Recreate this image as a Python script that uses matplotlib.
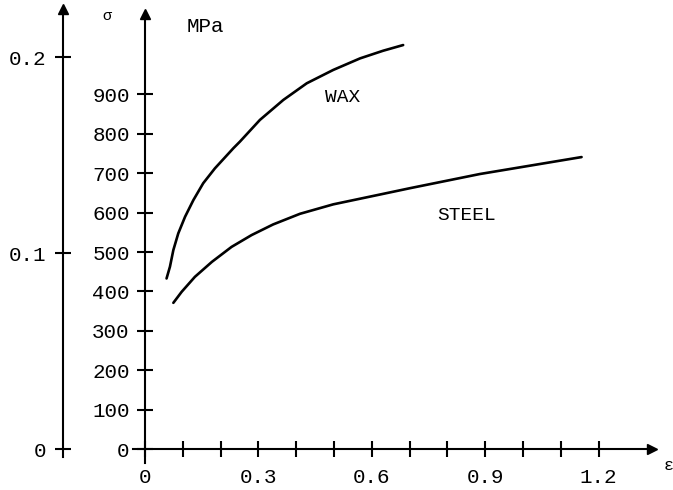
import numpy as np
import matplotlib.pyplot as plt
import matplotlib.transforms as mtransforms

plt.rcParams['font.family'] = ['Liberation Mono', 'DejaVu Sans Mono']

# -----------------------------
# Data
# -----------------------------
steel_eps = [0.075, 0.097, 0.132, 0.177, 0.229, 0.282, 0.339, 0.410, 0.498,
             0.622, 0.701, 0.886, 1.155]
steel_mpa = [371, 399, 437, 475, 513, 543, 570, 597, 621, 646, 662, 698, 741]

wax_eps = [0.057, 0.066, 0.075, 0.088, 0.106, 0.128, 0.154, 0.185, 0.234,
           0.251, 0.304, 0.366, 0.428, 0.498, 0.569, 0.630, 0.683]
wax_sig = [0.087, 0.093, 0.1015, 0.110, 0.1185, 0.127, 0.1356, 0.1432, 0.1535,
           0.1568, 0.1679, 0.1781, 0.1866, 0.1934, 0.1993, 0.2032, 0.2061]

x_ticks = np.round(np.arange(0, 1.21, 0.1), 1)
x_labels = ['0' if t == 0 else (f'{t:.1f}' if round(t * 10) % 3 == 0 else '') for t in x_ticks]
steel_ticks = np.arange(0, 901, 100)
wax_ticks = [0, 0.1, 0.2]
wax_labels = ['0', '0.1', '0.2']

# -----------------------------
# Figure / axes
# -----------------------------
W, H = 673, 490
fig = plt.figure(figsize=(W / 100, H / 100), dpi=100)
ax = fig.add_axes([145 / W, 41 / H, 506.5 / W, 431 / H])
ax2 = ax.twinx()

ax.set_xlim(0, 1.34)
ax.set_ylim(0, 1094)
ax2.set_ylim(0, 0.2199)

lw = 1.5
for a in (ax, ax2):
    a.patch.set_visible(False)
    for s in a.spines.values():
        s.set_visible(False)

ax.spines['left'].set_visible(True)
ax.spines['bottom'].set_visible(True)
ax.spines['left'].set_linewidth(lw)
ax.spines['bottom'].set_linewidth(lw)
ax.spines['left'].set_bounds(-36, 1094)
ax.spines['bottom'].set_bounds(-0.032, 1.34)

ax2.spines['left'].set_visible(True)
ax2.spines['left'].set_linewidth(lw)
ax2.spines['left'].set_position(('outward', 59))
ax2.spines['left'].set_bounds(-0.004, 0.2224)
ax2.yaxis.set_ticks_position('left')
ax2.yaxis.set_label_position('left')

# ticks
ax.set_xticks(x_ticks)
ax.set_xticklabels(x_labels)
ax.set_yticks(steel_ticks)
ax.set_yticklabels([str(t) for t in steel_ticks])
ax2.set_yticks(wax_ticks)
ax2.set_yticklabels(wax_labels)

ax.tick_params(axis='x', direction='inout', length=11, width=lw, pad=8, labelsize=15)
ax.tick_params(axis='y', direction='inout', length=12, width=lw, pad=5, labelsize=15)
ax2.tick_params(axis='y', direction='inout', length=12, width=lw, pad=6, labelsize=15)

# arrow heads on the axes
ax.plot([0], [1.0 + 4 / 431], marker='^', ms=7, color='black', transform=ax.transAxes, clip_on=False)
ax.plot([1.0], [0], marker='>', ms=7, color='black', transform=ax.transAxes, clip_on=False)
off = mtransforms.offset_copy(ax.transAxes, fig=fig, x=-59, y=0, units='points')
ax2.plot([0], [1.0 + 9 / 431], marker='^', ms=7, color='black', transform=off, clip_on=False)

# -----------------------------
# Curves
# -----------------------------
ax.plot(steel_eps, steel_mpa, color='black', lw=1.9, solid_capstyle='round', solid_joinstyle='round')
ax2.plot(wax_eps, wax_sig, color='black', lw=1.9, solid_capstyle='round', solid_joinstyle='round')

# -----------------------------
# Labels
# -----------------------------
ax.text(0.524, 892, 'WAX', fontsize=14, ha='center', va='center')
ax.text(0.852, 593, 'STEEL', fontsize=14, ha='center', va='center')
ax.text(0.159, 1072, 'MPa', fontsize=15, ha='center', va='center', clip_on=False)
ax.text(-0.10, 1100, 'σ', fontsize=11, ha='center', va='center', clip_on=False)
ax.text(1.384, -41, 'ε', fontsize=12, ha='center', va='center', clip_on=False)

fig.savefig('out.png', dpi=100)
